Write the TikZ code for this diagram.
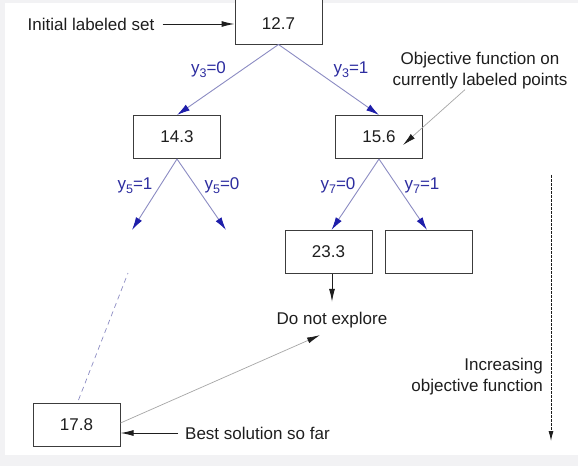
\documentclass[tikz,border=0pt]{standalone}
\usepackage{fontspec}
\setmainfont{Liberation Sans}
\usetikzlibrary{arrows.meta,calc}
\definecolor{edgec}{RGB}{140,140,195}
\definecolor{tipc}{RGB}{30,30,170}
\definecolor{lblc}{RGB}{45,45,160}
\definecolor{boxc}{RGB}{60,60,60}
\definecolor{txtc}{RGB}{30,30,30}
\definecolor{bgc}{RGB}{242,242,244}
\newcommand{\lsub}[1]{\raisebox{-4pt}{\fontsize{12.5}{12.5}\selectfont #1}}
\begin{document}
\begin{tikzpicture}[x=1pt,y=-1pt,
 box/.style={draw=boxc, line width=1pt, fill=white, minimum width=87pt, minimum height=43pt, inner sep=0pt, font=\fontsize{17}{20}\selectfont, text=txtc},
 txt/.style={font=\fontsize{17}{20}\selectfont, text=txtc, inner sep=0pt},
 lbl/.style={font=\fontsize{17}{20}\selectfont, text=lblc, inner sep=0pt},
 tree/.style={draw=edgec, line width=0.9pt, -{Latex[length=13pt,width=7pt,color=tipc]}},
 blk/.style={draw=txtc, line width=1pt, -{Latex[length=13pt,width=6pt]}},
 thinarr/.style={draw=gray!70, line width=0.7pt, -{Latex[length=13pt,width=6pt,color=txtc]}},
]
\useasboundingbox (0,0) rectangle (578,466);
\fill[bgc] (0,0) rectangle (578,466);
\fill[white] (5,3) rectangle (578,455);
\clip (0,0) rectangle (578,466);

% boxes
\node[box, minimum height=60pt] (r) at (278.5,14) {};
\node[txt] (rt) at (278.5,24) {12.7};
\node[box] (a) at (177,137) {14.3};
\node[box] (b) at (379,137) {15.6};
\node[box] (c) at (328.5,252) {23.3};
\node[box] (d) at (429,252) {};
\node[box] (e) at (76.5,425) {17.8};

% texts
\node[txt] (il) at (91,24) {Initial labeled set};
\node[txt, align=center] (obj) at (480,71) {Objective function on\\[1pt]currently labeled points};
\node[txt] (dn) at (332,320) {Do not explore};
\node[txt, anchor=west] (bs) at (185,433) {Best solution so far};
\node[txt, align=right, anchor=east] (inc) at (543,377) {Increasing\\[1pt]objective function};

% edge labels
\node[lbl] (l30) at (208.5,70) {y\lsub{3}=0};
\node[lbl] (l31) at (351,70) {y\lsub{3}=1};
\node[lbl] (l51) at (135,186) {y\lsub{5}=1};
\node[lbl] (l50) at (222,186) {y\lsub{5}=0};
\node[lbl] (l70) at (338,186) {y\lsub{7}=0};
\node[lbl] (l71) at (422,186) {y\lsub{7}=1};

% coordinates
\coordinate (a1) at (132,230);
\coordinate (a2) at (226,230);
\coordinate (dtop) at (128,273);
\coordinate (ctop) at (551,175);
\coordinate (cbot) at (551,441);

% tree edges
\draw[tree] (r.south) -- (a.north);
\draw[tree] (r.south) -- (b.north);
\draw[tree] (a.south) -- (a1);
\draw[tree] (a.south) -- (a2);
\draw[tree] (b.south) -- ([xshift=3pt]c.north);
\draw[tree] (b.south) -- ([xshift=-2pt]d.north);

% other connectors
\draw[blk] ([xshift=8pt]il.east) -- (il.east -| r.west);
\draw[thinarr] ([xshift=-15pt]obj.south) -- ([xshift=24pt,yshift=-8pt]b.center);
\draw[blk] ([xshift=3.5pt]c.south) -- ([xshift=0pt,yshift=10pt]dn.north);
\draw[thinarr] ([yshift=2pt]e.east) -- ([xshift=-12pt,yshift=-7pt]dn.south);
\draw[blk, shorten <=7pt] (bs.west) -- ([yshift=-8pt]e.east);
\draw[draw=edgec, line width=0.7pt, dash pattern=on 5pt off 4pt] ([xshift=2pt,yshift=3pt]e.north) -- (dtop);
\draw[draw=txtc, line width=0.9pt, dash pattern=on 2.5pt off 1.5pt, -{Latex[length=10pt,width=5pt]}] (ctop) -- (cbot);
\end{tikzpicture}
\end{document}
